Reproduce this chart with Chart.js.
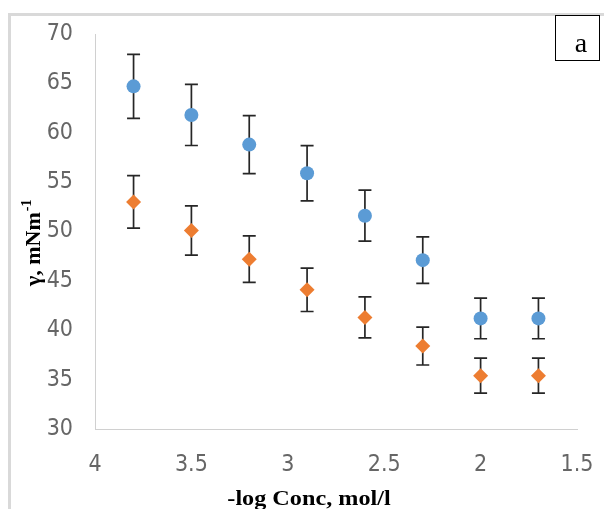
<!DOCTYPE html>
<html><head><meta charset="utf-8">
<script src="https://cdn.jsdelivr.net/npm/chart.js@4.4.1/dist/chart.umd.min.js"></script>
<style>html,body{margin:0;padding:0;background:#fff;}#wrap{position:relative;width:604px;height:509px;}</style>
</head><body><div id="wrap"><canvas id="c" width="604" height="509"></canvas></div>
<script>
const concX = [3.8, 3.5, 3.2, 2.9, 2.6, 2.3, 2.0, 1.7];
const gammaBlue = [64.7, 61.8, 58.8, 55.9, 51.6, 47.1, 41.2, 41.2];
const errBlue = [3.24, 3.09, 2.94, 2.80, 2.58, 2.36, 2.06, 2.06];
const gammaOrange = [53.0, 50.1, 47.2, 44.1, 41.3, 38.4, 35.4, 35.4];
const errOrange = [2.65, 2.50, 2.36, 2.20, 2.07, 1.92, 1.77, 1.77];
const xTicks = [4, 3.5, 3, 2.5, 2, 1.5];
const yTicks = [30, 35, 40, 45, 50, 55, 60, 65, 70];
const xTitle = '-log Conc, mol/l';
const yTitleMain = 'γ, mNm';
const yTitleSup = '-1';
const panelLabel = 'a';

const tickFont = {family: '"Liberation Sans Narrow", "DejaVu Sans Condensed", sans-serif', size: 23};

const errorBars = {
  id: 'errorBars',
  beforeDatasetsDraw(chart) {
    const ctx = chart.ctx, xs = chart.scales.x, ys = chart.scales.y;
    ctx.save();
    ctx.strokeStyle = '#262626';
    ctx.lineWidth = 1.7;
    chart.data.datasets.forEach(ds => {
      ds.data.forEach((p, i) => {
        const e = ds.errors[i];
        const px = xs.getPixelForValue(p.x);
        const top = ys.getPixelForValue(p.y + e);
        const bot = ys.getPixelForValue(p.y - e);
        const cw = 6.5;
        ctx.beginPath();
        ctx.moveTo(px, top); ctx.lineTo(px, bot);
        ctx.moveTo(px - cw, top); ctx.lineTo(px + cw, top);
        ctx.moveTo(px - cw, bot); ctx.lineTo(px + cw, bot);
        ctx.stroke();
      });
    });
    ctx.restore();
  }
};

const decor = {
  id: 'decor',
  beforeDraw(chart) {
    const ctx = chart.ctx;
    ctx.save();
    ctx.fillStyle = '#fff';
    ctx.fillRect(0, 0, chart.width, chart.height);
    ctx.strokeStyle = '#d9d9d9';
    ctx.lineWidth = 3;
    ctx.beginPath();
    ctx.moveTo(8, 14.5); ctx.lineTo(chart.width, 14.5);
    ctx.moveTo(9.5, 13); ctx.lineTo(9.5, chart.height);
    ctx.stroke();
    ctx.restore();
  },
  afterDraw(chart) {
    const ctx = chart.ctx;
    ctx.save();
    ctx.fillStyle = '#fff';
    ctx.fillRect(555.5, 15.5, 44, 45);
    ctx.strokeStyle = '#000';
    ctx.lineWidth = 1;
    ctx.strokeRect(555.5, 15.5, 44, 45);
    ctx.fillStyle = '#000';
    ctx.font = '28px "Liberation Serif", serif';
    ctx.textAlign = 'center';
    ctx.textBaseline = 'alphabetic';
    ctx.fillText(panelLabel, 581, 52);
    ctx.save();
    ctx.translate(309, 505);
    ctx.scale(1.1, 1);
    ctx.font = 'bold 22px "Liberation Serif", serif';
    ctx.fillText(xTitle, 0, 0);
    ctx.restore();
    ctx.translate(40, 286);
    ctx.rotate(-Math.PI / 2);
    ctx.textAlign = 'left';
    ctx.font = 'bold 22px "Liberation Serif", serif';
    ctx.fillText(yTitleMain, 0, 0);
    const w = ctx.measureText(yTitleMain).width;
    ctx.font = 'bold 14px "Liberation Serif", serif';
    ctx.fillText(yTitleSup, w + 1, -9);
    ctx.restore();
  }
};

new Chart(document.getElementById('c'), {
  type: 'scatter',
  data: {
    datasets: [
      {
        label: 'blue',
        data: concX.map((x, i) => ({x, y: gammaBlue[i]})),
        errors: errBlue,
        pointStyle: 'circle',
        pointRadius: 7,
        pointHoverRadius: 7,
        backgroundColor: '#5B9BD5',
        borderColor: '#5B9BD5',
        borderWidth: 0,
        showLine: false
      },
      {
        label: 'orange',
        data: concX.map((x, i) => ({x, y: gammaOrange[i]})),
        errors: errOrange,
        pointStyle: 'rectRot',
        pointRadius: 7.5,
        pointHoverRadius: 7.5,
        backgroundColor: '#ED7D31',
        borderColor: '#ED7D31',
        borderWidth: 0,
        showLine: false
      }
    ]
  },
  options: {
    responsive: false,
    devicePixelRatio: 1,
    animation: false,
    events: [],
    layout: {padding: {top: 34, right: 27, left: 0, bottom: 0}},
    plugins: {legend: {display: false}, tooltip: {enabled: false}, title: {display: false}},
    scales: {
      x: {
        type: 'linear',
        reverse: true,
        min: 1.5, max: 4,
        afterBuildTicks: s => { s.ticks = xTicks.map(v => ({value: v})); },
        afterFit: s => { s.height = 80; s.paddingRight = 0; s.paddingLeft = 0; },
        grid: {display: false, drawTicks: false},
        border: {display: true, color: '#d0d0d0', width: 1},
        ticks: {color: '#666', font: tickFont, padding: 22, maxRotation: 0, autoSkip: false,
          callback: v => String(v)}
      },
      y: {
        type: 'linear',
        min: 30, max: 70,
        afterBuildTicks: s => { s.ticks = yTicks.map(v => ({value: v})); },
        afterFit: s => { s.width = 95; s.paddingTop = 0; s.paddingBottom = 0; },
        grid: {display: false, drawTicks: false},
        border: {display: true, color: '#d0d0d0', width: 1},
        ticks: {color: '#666', font: tickFont, padding: 22, callback: v => String(v)}
      }
    }
  },
  plugins: [decor, errorBars]
});
</script>
</body></html>
